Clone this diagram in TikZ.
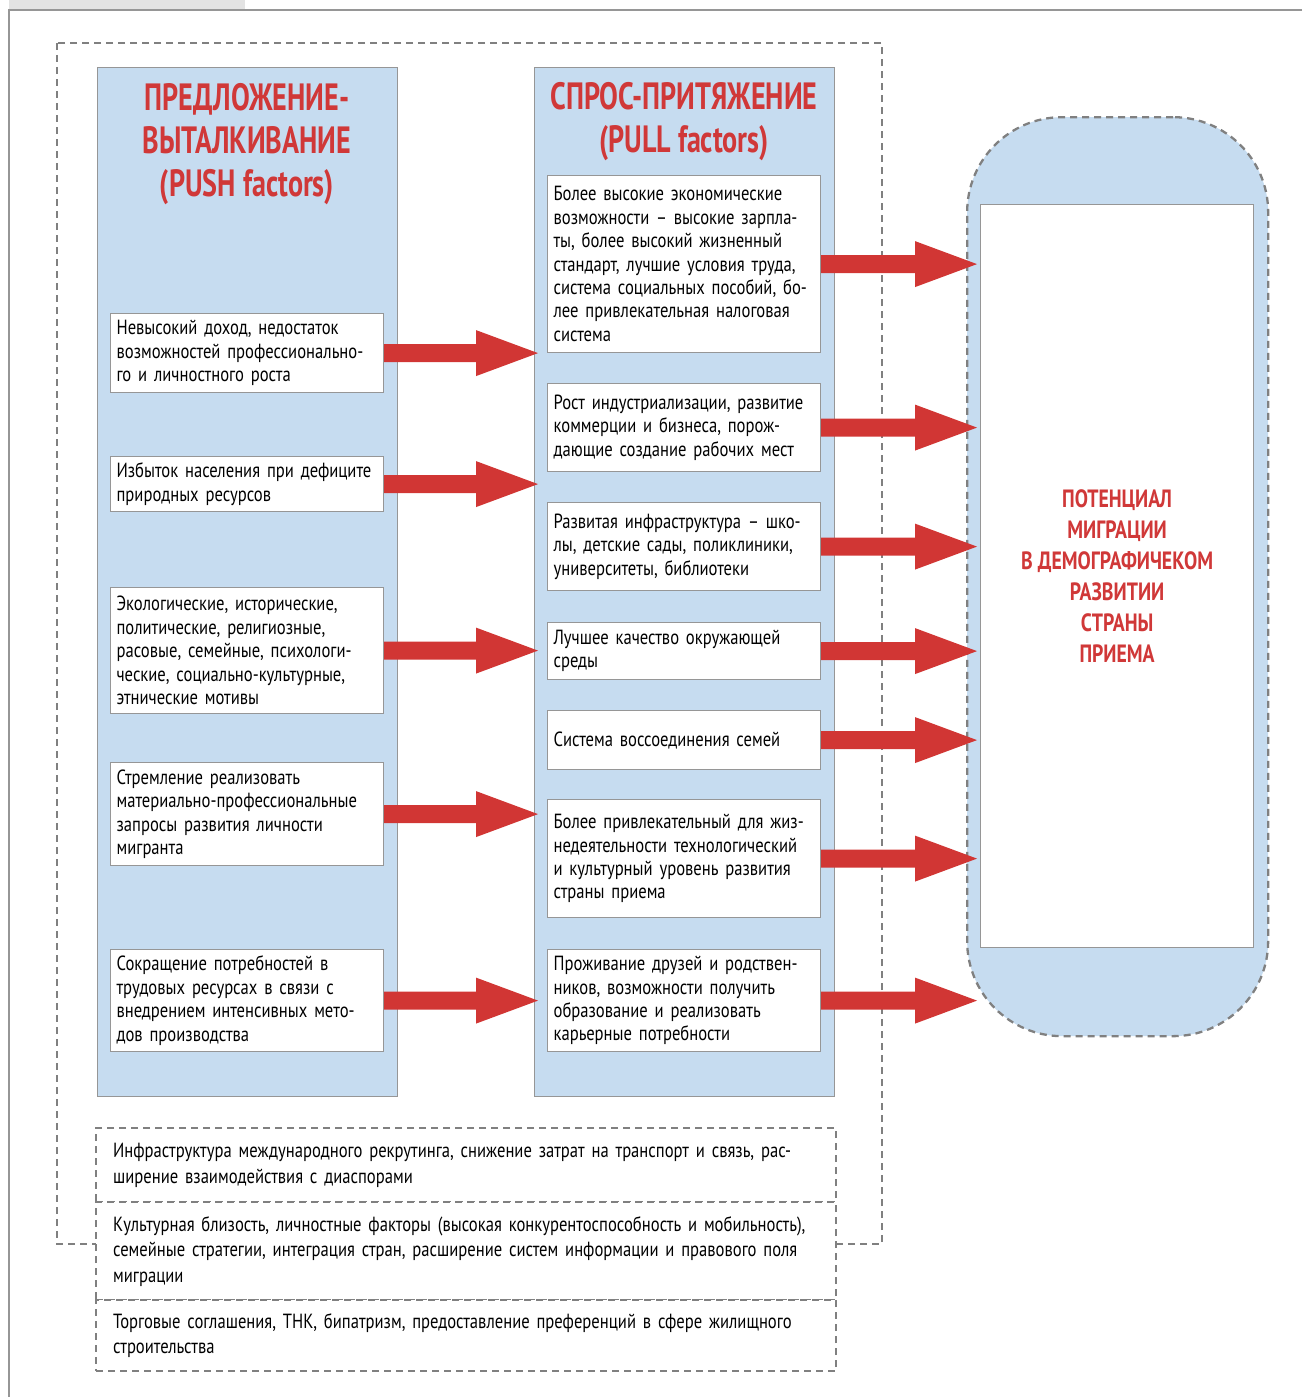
\documentclass[tikz,border=0pt]{standalone}
\usepackage{fontspec}
\setmainfont{PT Sans}[FakeStretch=0.81, WordSpace=0.7]
\newfontfamily\headfont{PT Sans}[FakeStretch=0.74]
\newfontfamily\goalfont{PT Sans}[FakeStretch=0.79]
\usetikzlibrary{calc}
\definecolor{colblue}{RGB}{198,220,240}
\definecolor{myred}{RGB}{209,54,52}
\definecolor{titlered}{RGB}{208,56,56}
\definecolor{bordergray}{RGB}{150,150,150}
\definecolor{dashgray}{RGB}{128,128,128}
\newcommand{\mybody}{\fontsize{20.5}{23.4}\selectfont}
\newcommand{\mybottom}{\fontsize{20.5}{25.5}\selectfont}
\newcommand{\mytitle}{\headfont\fontsize{38}{43}\selectfont\bfseries}
\newcommand{\mygoal}{\goalfont\fontsize{25}{31}\selectfont\bfseries}
\newcommand{\redarrow}[3]{%
  \fill[myred] let \p1=(#1), \p2=(#2) in
   (\x1,\y1+9pt) -- (\x2+#3-62pt,\y1+9pt) -- (\x2+#3-62pt,\y1+23pt) -- (\x2+#3,\y1)
   -- (\x2+#3-62pt,\y1-23pt) -- (\x2+#3-62pt,\y1-9pt) -- (\x1,\y1-9pt) -- cycle;}
\tikzset{
  dashstyle/.style={draw=dashgray, line width=2.3pt, dash pattern=on 7pt off 5pt},
  colbox/.style={draw=bordergray, line width=1.2pt, fill=colblue, anchor=north west,
    minimum width=300pt, minimum height=1029pt, inner sep=0pt},
  factor/.style={draw=bordergray, line width=1.2pt, fill=white, anchor=north west,
    minimum width=273pt, text width=261pt, inner xsep=6pt, inner ysep=0pt,
    align=left, font=\mybody},
  bottombox/.style={dashstyle, fill=white, anchor=north west, minimum width=740pt,
    text width=706pt, inner xsep=17pt, inner ysep=0pt, align=left, font=\mybottom},
  titletext/.style={text=titlered, align=center, font=\mytitle, inner sep=0pt}
}
\begin{document}
\begin{tikzpicture}[x=1pt,y=-1pt]
\useasboundingbox (0,0) rectangle (1302,1397);
% page frame
\fill[gray!22] (9,0) rectangle (245,9);
\draw[bordergray, line width=1.5pt] (1302,10) -- (9,10) -- (9,1397);
% outer dashed frame
\draw[dashstyle] (57,43) rectangle (882,1244);
% columns
\node[colbox] (lcol) at (97,67) {};
\node[colbox] (mcol) at (534,67) {};
\node[titletext] (ltitle) at (247,144) {ПРЕДЛОЖЕНИЕ-\\ВЫТАЛКИВАНИЕ\\(PUSH factors)};
\node[titletext] (mtitle) at (684,122) {СПРОС-ПРИТЯЖЕНИЕ\\(PULL factors)};
% left factors
\node[factor, minimum height=79pt] (l1) at (110,313) {Невысокий доход, недостаток\\возможностей профессионально-\\го и личностного роста};
\node[factor, minimum height=55pt] (l2) at (110,456) {Избыток населения при дефиците\\природных ресурсов};
\node[factor, minimum height=126pt] (l3) at (110,587) {Экологические, исторические,\\политические, религиозные,\\расовые, семейные, психологи-\\ческие, социально-культурные,\\этнические мотивы};
\node[factor, minimum height=103pt] (l4) at (110,762) {Стремление реализовать\\материально-профессиональные\\запросы развития личности\\мигранта};
\node[factor, minimum height=102pt] (l5) at (110,949) {Сокращение потребностей в\\трудовых ресурсах в связи с\\внедрением интенсивных мето-\\дов производства};
% middle factors
\node[factor, minimum height=177pt] (m1) at (547,175) {Более высокие экономические\\возможности – высокие зарпла-\\ты, более высокий жизненный\\стандарт, лучшие условия труда,\\система социальных пособий, бо-\\лее привлекательная налоговая\\система};
\node[factor, minimum height=88pt] (m2) at (547,383) {Рост индустриализации, развитие\\коммерции и бизнеса, порож-\\дающие создание рабочих мест};
\node[factor, minimum height=88pt] (m3) at (547,502) {Развитая инфраструктура – шко-\\лы, детские сады, поликлиники,\\университеты, библиотеки};
\node[factor, minimum height=57pt] (m4) at (547,622) {Лучшее качество окружающей\\среды};
\node[factor, minimum height=59pt] (m5) at (547,710) {Система воссоединения семей};
\node[factor, minimum height=118pt] (m6) at (547,799) {Более привлекательный для жиз-\\недеятельности технологический\\и культурный уровень развития\\страны приема};
\node[factor, minimum height=102pt] (m7) at (547,949) {Проживание друзей и родствен-\\ников, возможности получить\\образование и реализовать\\карьерные потребности};
% goal
\node[dashstyle, fill=colblue, rounded corners=95pt, anchor=north west,
  minimum width=301pt, minimum height=919pt, inner sep=0pt] (goal) at (966,116) {};
\node[draw=bordergray, line width=1.2pt, fill=white, anchor=north west,
  minimum width=273pt, minimum height=743pt, inner sep=0pt, align=center,
  text=titlered, font=\mygoal] (inner) at (980,204)
  {ПОТЕНЦИАЛ\\МИГРАЦИИ\\В ДЕМОГРАФИЧЕКОМ\\РАЗВИТИИ\\СТРАНЫ\\ПРИЕМА};
% arrows
\foreach \nd in {l1,l2,l3,l4,l5} {\redarrow{\nd.east}{mcol.west}{4pt}}
\foreach \nd in {m1,m2,m3,m4,m5,m6,m7} {\redarrow{\nd.east}{inner.west}{-3pt}}
% bottom boxes
\node[bottombox, minimum height=74pt] (b1) at (95,1127) {Инфраструктура международного рекрутинга, снижение затрат на транспорт и связь, рас-\\ширение взаимодействия с диаспорами};
\node[bottombox, minimum height=98pt] (b2) at (95,1201) {Культурная близость, личностные факторы (высокая конкурентоспособность и мобильность),\\семейные стратегии, интеграция стран, расширение систем информации и правового поля\\миграции};
\node[bottombox, minimum height=71pt] (b3) at (95,1299) {Торговые соглашения, ТНК, бипатризм, предоставление преференций в сфере жилищного\\строительства};
\end{tikzpicture}
\end{document}
